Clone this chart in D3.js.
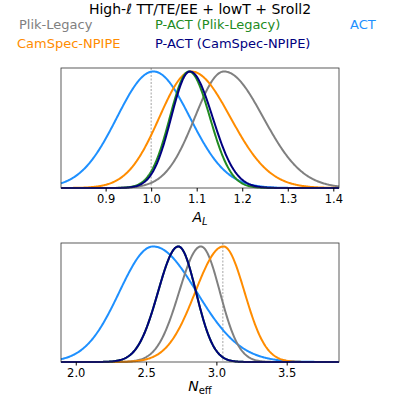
<!DOCTYPE html>
<html>
<head>
<script src="https://cdn.jsdelivr.net/npm/d3@7"></script>
<style>body{margin:0;background:#fff} text{font-family:"DejaVu Sans",sans-serif}</style>
</head>
<body>
<svg id="chart" width="400" height="400"></svg>
<script>
// series: name, colour
const names = ["Plik-Legacy", "CamSpec-NPIPE", "P-ACT (Plik-Legacy)", "P-ACT (CamSpec-NPIPE)", "ACT"];
const colors = ["#808080", "#ff8c00", "#228b22", "#000080", "#1e90ff"];
// posterior shape: peak, left width, right width
const alPeak = [1.160, 1.088, 1.083, 1.085, 1.005];
const alSigL = [0.064, 0.070, 0.042, 0.041, 0.080];
const alSigR = [0.086, 0.086, 0.046, 0.050, 0.080];
const nPeak = [2.89, 3.05, 2.73, 2.73, 2.55];
const nSigL = [0.155, 0.20, 0.145, 0.145, 0.24];
const nSigR = [0.135, 0.15, 0.125, 0.125, 0.31];
const alTicks = [0.9, 1.0, 1.1, 1.2, 1.3, 1.4];
const nTicks = [2.0, 2.5, 3.0, 3.5];

const svg = d3.select("#chart");
const order = [4, 0, 1, 2, 3];

svg.append("text").attr("x", 200).attr("y", 14).attr("text-anchor", "middle")
  .style("font-size", "14px").text("High-ℓ TT/TE/EE + lowT + Sroll2");
const leg = [[19, 29, 0], [155, 29, 2], [350, 29, 4], [17, 48, 1], [155, 48, 3]];
leg.forEach(([x, y, i]) => svg.append("text").attr("x", x).attr("y", y)
  .style("font-size", "13px").attr("fill", colors[i]).text(names[i]));

function panel(top, bottom, dom, ticks, peaks, sl, sr, ref) {
  const x = d3.scaleLinear().domain(dom).range([61, 339]);
  const y = d3.scaleLinear().domain([0, 1.03]).range([bottom, top]);
  const g = svg.append("g");
  g.append("line").attr("x1", x(ref)).attr("x2", x(ref)).attr("y1", top).attr("y2", bottom)
    .attr("stroke", "#666").attr("stroke-width", 0.6).attr("stroke-dasharray", "2,1.5");
  const xs = d3.range(0, 401).map(k => dom[0] + (dom[1] - dom[0]) * k / 400);
  order.forEach(i => {
    const pts = xs.map(v => {
      const s = v < peaks[i] ? sl[i] : sr[i];
      return [v, Math.exp(-0.5 * ((v - peaks[i]) / s) ** 2)];
    });
    g.append("path").attr("d", d3.line().x(d => x(d[0])).y(d => y(d[1]))(pts))
      .attr("fill", "none").attr("stroke", colors[i]).attr("stroke-width", 2);
  });
  g.append("rect").attr("x", 61).attr("y", top).attr("width", 278).attr("height", bottom - top)
    .attr("fill", "none").attr("stroke", "#333").attr("stroke-width", 0.8);
  const ax = g.append("g").attr("transform", `translate(0,${bottom})`)
    .call(d3.axisBottom(x).tickValues(ticks).tickFormat(d3.format(".1f")).tickSize(3.5).tickSizeOuter(0));
  ax.select(".domain").remove();
  ax.selectAll("text").style("font-size", "11.5px").style("font-family", "DejaVu Sans").attr("fill", "#000");
  return { x, g };
}

panel(68, 188, [0.802, 1.4125], alTicks, alPeak, alSigL, alSigR, 1.0);
const t1 = svg.append("text").attr("x", 200).attr("y", 222).attr("text-anchor", "middle")
  .style("font-size", "14px").style("font-style", "italic");
t1.append("tspan").text("A");
t1.append("tspan").attr("dy", 3).style("font-size", "10px").text("L");

panel(243, 362, [1.895, 3.872], nTicks, nPeak, nSigL, nSigR, 3.046);
const t2 = svg.append("text").attr("x", 200).attr("y", 391).attr("text-anchor", "middle")
  .style("font-size", "14px");
t2.append("tspan").style("font-style", "italic").text("N");
t2.append("tspan").attr("dy", 3).style("font-size", "10px").text("eff");
</script>
</body>
</html>
